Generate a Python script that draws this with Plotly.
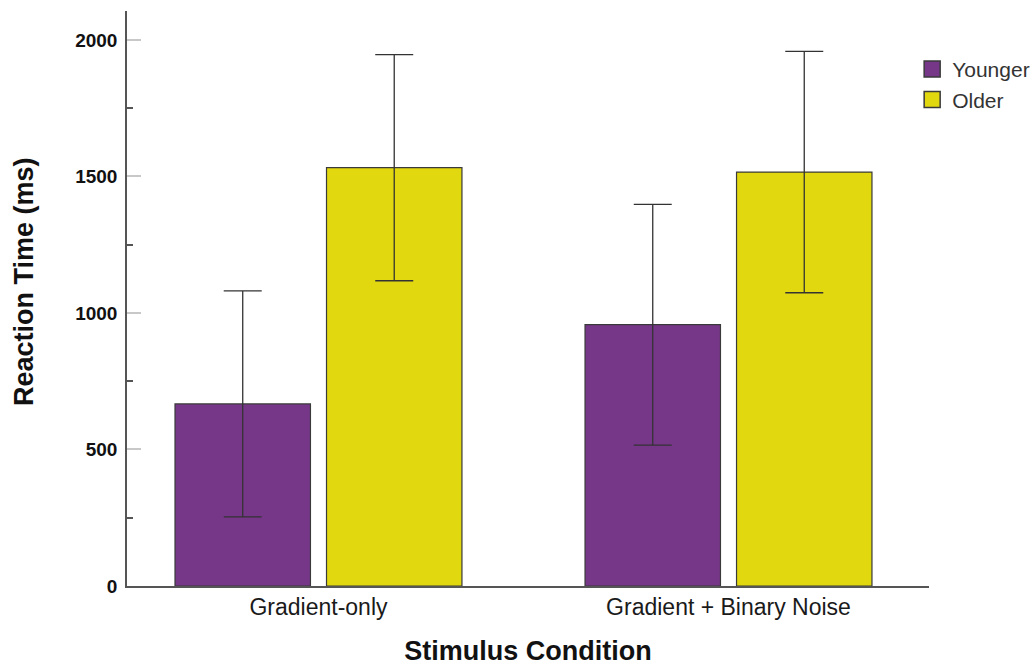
import plotly.graph_objects as go

conditions = ["Gradient-only", "Gradient + Binary Noise"]
groups = ["Younger", "Older"]
younger_mean = [667, 957]
younger_err = [414, 441]
older_mean = [1532, 1516]
older_err = [414, 442]
colors = {"Younger": "#763789", "Older": "#E2D810"}

means = {"Younger": younger_mean, "Older": older_mean}
errs = {"Younger": younger_err, "Older": older_err}

fig = go.Figure()
for g in groups:
    fig.add_trace(go.Bar(
        x=conditions, y=means[g], name=g, showlegend=False,
        marker=dict(color=colors[g], line=dict(color="#3a3a3a", width=1.2)),
        error_y=dict(type="data", array=errs[g], visible=True,
                     color="#333333", thickness=1.3, width=19),
    ))
# legend proxies (square swatches)
for g in groups:
    fig.add_trace(go.Scatter(
        x=[None], y=[None], mode="markers", name=g,
        marker=dict(symbol="square", size=16, color=colors[g],
                    line=dict(color="#3a3a3a", width=1.5)),
    ))

fig.update_layout(
    width=1031, height=666,
    margin=dict(l=127, r=102, t=11, b=80, autoexpand=False),
    paper_bgcolor="white", plot_bgcolor="white",
    barmode="group", bargap=0.261, bargroupgap=0.106,
    font=dict(family="Liberation Sans, Arial, sans-serif", color="black"),
    legend=dict(x=0.979, y=0.934, xanchor="left", yanchor="top",
                font=dict(size=21, color="#333333"),
                tracegroupgap=0, itemwidth=30,
                bgcolor="rgba(0,0,0,0)"),
    annotations=[dict(
        text="Reaction Time (ms)", textangle=-90,
        xref="paper", yref="paper", x=0, y=0.5287,
        xanchor="center", yanchor="middle", xshift=-103, showarrow=False,
        font=dict(size=27, weight="bold", color="#111111"),
    )],
)
fig.update_xaxes(
    type="category", range=[-0.467, 1.489],
    showline=True, linecolor="#555555", linewidth=1.5,
    ticks="", showgrid=False, zeroline=False,
    tickfont=dict(size=23, color="#1a1a1a"),
    title=dict(text="Stimulus Condition", standoff=24,
               font=dict(size=27, weight="bold", color="#111111")),
)
fig.update_yaxes(
    range=[0, 2106],
    showline=True, linecolor="#555555", linewidth=1.5,
    showgrid=False, zeroline=False,
    tickvals=[0, 500, 1000, 1500, 2000],
    ticks="inside", ticklen=14, tickcolor="#c8c8c8", tickwidth=1.5,
    ticklabelstandoff=4,
    minor=dict(tickvals=[250, 750, 1250, 1750], ticks="inside", ticklen=6,
               tickcolor="#555555", tickwidth=1.5),
    tickfont=dict(size=19, weight="bold", color="#111111"),
)

fig.write_html("out.html")
